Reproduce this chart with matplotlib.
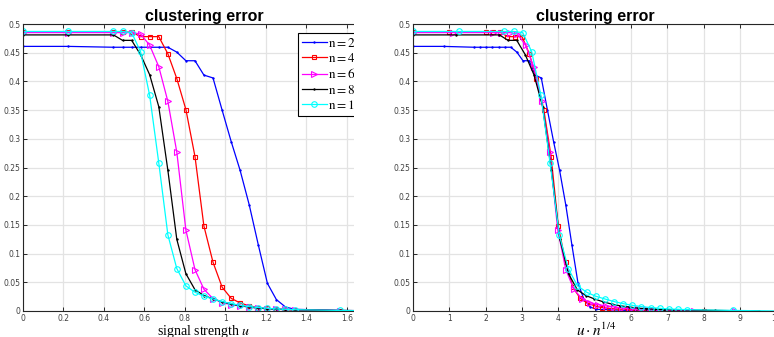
import numpy as np
import matplotlib.pyplot as plt
from matplotlib.patches import Rectangle

# signal strength grid
u = [0.0, 0.224, 0.447, 0.492, 0.537, 0.581, 0.626, 0.671, 0.716, 0.760,
     0.805, 0.850, 0.894, 0.939, 0.984, 1.029, 1.073, 1.118, 1.163, 1.208,
     1.252, 1.297, 1.342, 1.565, 1.789]

n_values = [200, 400, 600, 800, 1000]
labels = [r'$\mathrm{n=200}$', r'$\mathrm{n=400}$', r'$\mathrm{n=600}$',
          r'$\mathrm{n=800}$', r'$\mathrm{n=1000}$']

err_n200 = [0.461, 0.461, 0.4595, 0.4595, 0.4595, 0.4595, 0.4595, 0.4595, 0.4595, 0.451,
            0.436, 0.436, 0.411, 0.406, 0.350, 0.295, 0.245, 0.185, 0.115, 0.048,
            0.020, 0.007, 0.003, 0.001, 0.0]
err_n400 = [0.486, 0.486, 0.486, 0.486, 0.486, 0.478, 0.478, 0.478, 0.448, 0.405,
            0.351, 0.269, 0.148, 0.085, 0.0415, 0.022, 0.014, 0.009, 0.006, 0.0045,
            0.0035, 0.003, 0.002, 0.0005, 0.0]
err_n600 = [0.485, 0.485, 0.485, 0.485, 0.485, 0.4826, 0.463, 0.4256, 0.365, 0.277,
            0.141, 0.072, 0.038, 0.0216, 0.0146, 0.011, 0.0088, 0.007, 0.005, 0.004,
            0.0035, 0.003, 0.002, 0.0007, 0.0]
err_n800 = [0.481, 0.481, 0.481, 0.4715, 0.4715, 0.4465, 0.4116, 0.356, 0.245, 0.125,
            0.065, 0.037, 0.027, 0.021, 0.016, 0.012, 0.009, 0.007, 0.005, 0.004,
            0.003, 0.0025, 0.002, 0.001, 0.0]
err_n1000 = [0.487, 0.487, 0.487, 0.487, 0.485, 0.4517, 0.3756, 0.258, 0.1326, 0.074,
             0.0438, 0.0327, 0.0257, 0.021, 0.0164, 0.0128, 0.0099, 0.0076, 0.006, 0.0047,
             0.0035, 0.003, 0.0023, 0.001, 0.0]

errors = [err_n200, err_n400, err_n600, err_n800, err_n1000]
colors = ['#0000ff', '#ff0000', '#ff00ff', '#000000', '#00ffff']
markers = ['.', 's', '>', '.', 'o']
msizes = [1.8, 3.5, 4, 1.8, 4]

plt.rcParams['mathtext.fontset'] = 'stix'

W, H = 774, 337
fig = plt.figure(figsize=(W / 100, H / 100), dpi=100)
ax1 = fig.add_axes([23 / W, 1 - 311 / H, (385 - 23) / W, (311 - 24) / H])
ax2 = fig.add_axes([413 / W, 1 - 311 / H, (778.5 - 413) / W, (311 - 24) / H])

u_arr = np.array(u)
for ax, scaled in [(ax1, False), (ax2, True)]:
    for n, err, c, m, ms, lab in zip(n_values, errors, colors, markers, msizes, labels):
        x = u_arr * n ** 0.25 if scaled else u_arr
        ax.plot(x, err, color=c, marker=m, markersize=ms, markerfacecolor='none' if m != '.' else c,
                markeredgewidth=0.8, linewidth=0.9, label=lab)
    ax.set_ylim(0, 0.5)
    ax.set_yticks(np.arange(0, 0.501, 0.05))
    ax.yaxis.set_major_formatter(plt.FormatStrFormatter('%g'))
    ax.xaxis.set_major_formatter(plt.FormatStrFormatter('%g'))
    ax.grid(True, color='#e3e3e3', linewidth=0.9)
    ax.set_axisbelow(True)
    ax.tick_params(direction='in', top=True, right=True, length=3, width=0.7,
                   labelsize=5.5, labelcolor='#404040', color='#262626', pad=2)
    for s in ax.spines.values():
        s.set_color('#262626')
        s.set_linewidth(0.8)
    ax.set_title('clustering error', fontsize=11.5, fontweight='bold', pad=2,
                 family='Liberation Sans')

ax1.set_xlim(0, 1.789)
ax1.set_xticks(np.arange(0, 1.61, 0.2))
ax2.set_xlim(0, 10.06)
ax2.set_xticks(range(0, 11))

ax1.set_xlabel('signal strength $u$', fontsize=10, family='Liberation Serif', labelpad=0)
ax2.set_xlabel(r'$u \cdot n^{1/4}$', fontsize=11, labelpad=-0.5)

leg = ax1.legend(loc='upper left', bbox_to_anchor=(298 / W, 1 - 33 / H),
                 bbox_transform=fig.transFigure, fancybox=False, edgecolor='black',
                 framealpha=1, prop={'size': 9.5},
                 handlelength=1.9, labelspacing=0.18, borderpad=0.27, handletextpad=0.1,
                 borderaxespad=0)
leg.get_frame().set_linewidth(0.8)

# the original panel is cut off at its right side
fig.add_artist(Rectangle((353.5 / W, 0), (394 - 353.5) / W, 1, transform=fig.transFigure,
                         facecolor='white', edgecolor='none', zorder=20))

fig.savefig('out.png', dpi=100)
